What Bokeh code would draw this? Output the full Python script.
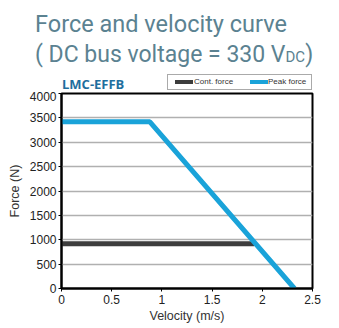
from bokeh.plotting import figure
from bokeh.layouts import column
from bokeh.models import FixedTicker, Range1d, Div
from bokeh.embed import file_html
from bokeh.resources import INLINE

# data
peak_v = [0, 0.88, 2.32]
peak_f = [3420, 3420, 0]
cont_v = [0, 1.92]
cont_f = [920, 920]
x_ticks = [0, 0.5, 1, 1.5, 2, 2.5]
x_tick_labels = ["0", "0.5", "1", "1.5", "2", "2.5"]
y_ticks = [0, 500, 1000, 1500, 2000, 2500, 3000, 3500, 4000]
series_names = ["Cont. force", "Peak force"]
series_colors = ["#3d3d3d", "#1aa3d9"]

W, H = 339, 328
TOP_H = 91
title_color = "#5b8291"

# ---------- header: titles + legend ----------
def absdiv(left, top, inner, style=""):
    return (f'<div style="position:absolute;left:{left}px;top:{top}px;'
            f'white-space:nowrap;{style}">{inner}</div>')

legend_html = ""
sw_left = [7, 82]
txt_left = [26, 100]
for name, col, sl, tl in zip(series_names, series_colors, sw_left, txt_left):
    legend_html += absdiv(sl, 5, "", f"width:18px;height:4px;background:{col};")
    legend_html += absdiv(tl, 2, name,
                          "font-family:'Liberation Sans';font-size:8px;line-height:10px;color:#333;")

html = (
    f'<div style="position:relative;width:{W}px;height:{TOP_H}px;background:white;">'
    + absdiv(35, 12, "Force and velocity curve",
             f"font-family:Roboto;font-size:23.5px;line-height:24px;color:{title_color};")
    + absdiv(35, 43, '( DC bus voltage = 330 V<span style="font-size:15px">DC</span>)',
             f"font-family:Roboto;font-size:23px;line-height:24px;color:{title_color};")
    + absdiv(62, 77.5, "LMC-EFFB",
             "font-family:'Open Sans';font-weight:bold;font-size:13px;line-height:13px;color:#1f6e9e;")
    + absdiv(167, 74,
             legend_html,
             "width:145px;height:16px;box-sizing:border-box;border:1px solid #aaaaaa;background:white;")
    + '</div>'
)
hdr = Div(text=html, width=W, height=TOP_H, margin=0)

# ---------- main chart ----------
L, R, T, B = 61, 27, 2, 40
p = figure(width=W, height=H - TOP_H, output_backend="svg", toolbar_location=None,
           x_range=Range1d(0, 2.5), y_range=Range1d(0, 4000), margin=0,
           min_border_left=L, min_border_right=R, min_border_top=T, min_border_bottom=B)
p.background_fill_color = "white"
p.border_fill_color = "white"
p.outline_line_color = "black"
p.outline_line_width = 2

p.xgrid.visible = False
p.ygrid.grid_line_color = "#b0b0b0"
p.ygrid.grid_line_width = 1.5

p.xaxis.ticker = FixedTicker(ticks=x_ticks)
p.xaxis.major_label_overrides = {t: s for t, s in zip(x_ticks, x_tick_labels)}
p.yaxis.ticker = FixedTicker(ticks=y_ticks)
for ax in (p.xaxis, p.yaxis):
    ax.axis_line_color = "black"
    ax.axis_line_width = 2
    ax.major_tick_line_color = "black"
    ax.major_tick_in = 0
    ax.major_tick_out = 3
    ax.minor_tick_line_color = None
    ax.major_label_text_font = "Liberation Sans"
    ax.major_label_text_font_size = "12px"
    ax.major_label_text_color = "#222222"
    ax.axis_label_text_font = "Liberation Sans"
    ax.axis_label_text_font_size = "12.5px"
    ax.axis_label_text_font_style = "normal"
    ax.axis_label_text_color = "#333333"
p.xaxis.axis_label = "Velocity (m/s)"
p.yaxis.axis_label = "Force (N)"
p.xaxis.major_label_standoff = 3
p.yaxis.major_label_standoff = 2
p.xaxis.axis_label_standoff = 2
p.yaxis.axis_label_standoff = 5

p.line(cont_v, cont_f, line_color=series_colors[0], line_width=5)
p.line(peak_v, peak_f, line_color=series_colors[1], line_width=5)

layout = column(hdr, p, spacing=0, margin=0)
open("out.html", "w").write(file_html(layout, INLINE))
